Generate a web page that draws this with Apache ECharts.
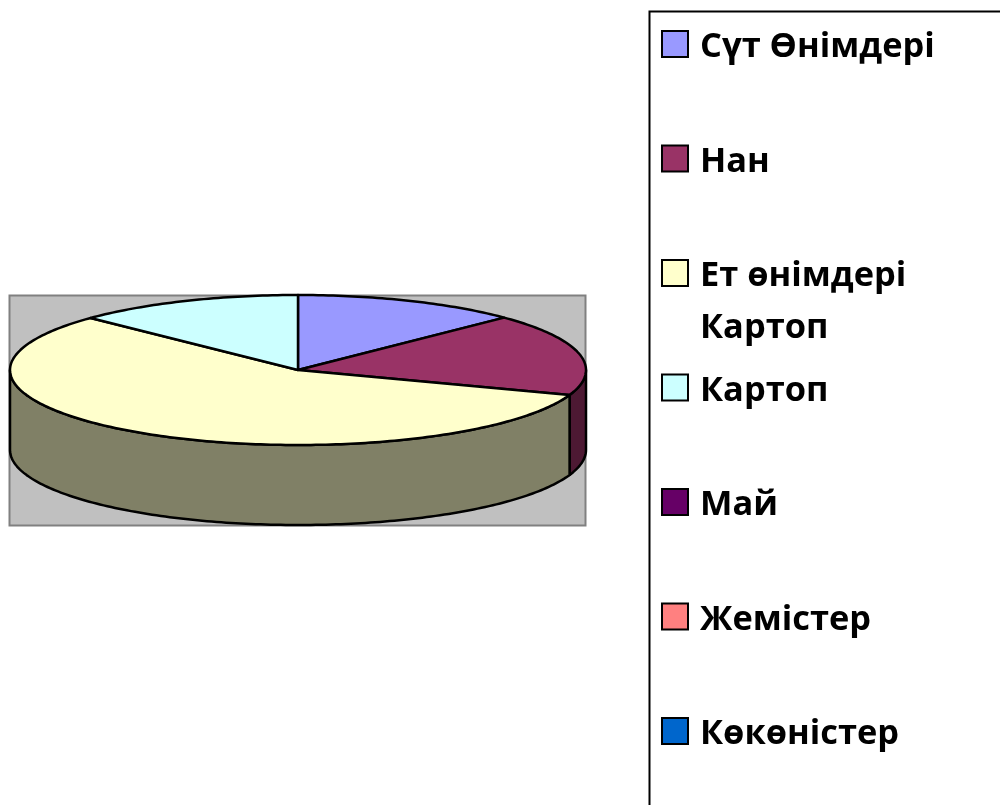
<!DOCTYPE html>
<html>
<head>
<meta charset="utf-8">
<title>Pie</title>
<script src="https://cdn.jsdelivr.net/npm/echarts@6/dist/echarts.min.js"></script>
<style>
  html, body { margin: 0; padding: 0; background: #fff; }
  #chart { width: 1000px; height: 805px; }
</style>
</head>
<body>
<div id="chart"></div>
<script>
const categories = ["Сүт Өнімдері", "Нан", "Ет өнімдері", "Картоп", "Май", "Жемістер", "Көкөністер"];
const values = [12.7, 17.7, 56.8, 12.8, 0, 0, 0];
const colors = ["#9999ff", "#993366", "#ffffcc", "#ccffff", "#660066", "#ff8080", "#0066cc"];
const wallColors = ["#4d4d80", "#4d1933", "#808066", "#668080", "#330033", "#804040", "#003366"];
// second line of the "Ет өнімдері" legend entry
const wrappedLabel = "Картоп";

// ellipse of the pie top, in px
const cx = 298, cy = 370, rx = 288, ry = 75, depth = 80;
const total = values.reduce((a, b) => a + b, 0);

function edgePoint(deg, dy) {
  const t = deg * Math.PI / 180;
  return [cx + rx * Math.sin(t), cy - ry * Math.cos(t) + (dy || 0)];
}

function arc(from, to, dy) {
  const pts = [];
  for (let d = from; d < to; d += 1) pts.push(edgePoint(d, dy));
  pts.push(edgePoint(to, dy));
  return pts;
}

function sliceRange(i) {
  let before = 0;
  for (let k = 0; k < i; k++) before += values[k];
  return [before / total * 360, (before + values[i]) / total * 360];
}

function renderSlice(i, api) {
  if (!api.value(0)) return null;
  const [a0, a1] = sliceRange(i);
  const stroke = { stroke: "#000", lineWidth: 2.5, lineJoin: "round" };
  const children = [];
  // the wall only shows on the front half
  const w0 = Math.max(a0, 90), w1 = Math.min(a1, 270);
  if (w1 > w0) {
    children.push({
      type: "polygon",
      shape: { points: arc(w0, w1, 0).concat(arc(w0, w1, depth).reverse()) },
      style: Object.assign({ fill: wallColors[i] }, stroke)
    });
  }
  children.push({
    type: "polygon",
    shape: { points: [[cx, cy]].concat(arc(a0, a1, 0)) },
    style: Object.assign({ fill: colors[i] }, stroke)
  });
  return { type: "group", children: children };
}

const chart = echarts.init(document.getElementById("chart"), null, { renderer: "canvas" });

chart.setOption({
  animation: false,
  backgroundColor: "#fff",
  textStyle: { fontFamily: "'Open Sans'" },
  legend: {
    orient: "vertical",
    left: 661,
    top: 30,
    padding: 0,
    itemWidth: 26,
    itemHeight: 26,
    itemGap: 80,
    icon: "rect",
    itemStyle: { borderColor: "#000", borderWidth: 2 },
    selectedMode: false,
    formatter: "{t|{name}}",
    textStyle: {
      color: "#000",
      padding: [0, 0, 0, 7],
      rich: {
        t: {
          fontFamily: "'Open Sans'",
          fontWeight: "bold",
          fontSize: 34.4,
          color: "#000",
          padding: [7, 0, 0, 0]
        }
      }
    },
    data: categories
  },
  graphic: [
    {
      type: "rect", z: 0,
      shape: { x: 9.5, y: 295.5, width: 576, height: 230 },
      style: { fill: "#c0c0c0", stroke: "#808080", lineWidth: 2 }
    },
    {
      type: "polyline", z: 0,
      shape: { points: [[649.5, 805], [649.5, 11.5], [1000, 11.5]] },
      style: { fill: null, stroke: "#000", lineWidth: 2 }
    },
    {
      type: "text", z: 3, x: 700, y: 328,
      style: {
        text: wrappedLabel, fill: "#000",
        font: "bold 34.4px 'Open Sans'",
        verticalAlign: "middle"
      }
    }
  ],
  series: categories.map((name, i) => ({
    type: "custom",
    name: name,
    coordinateSystem: "none",
    silent: true,
    itemStyle: { color: colors[i] },
    data: [values[i]],
    renderItem: (params, api) => renderSlice(i, api)
  }))
});
</script>
</body>
</html>
